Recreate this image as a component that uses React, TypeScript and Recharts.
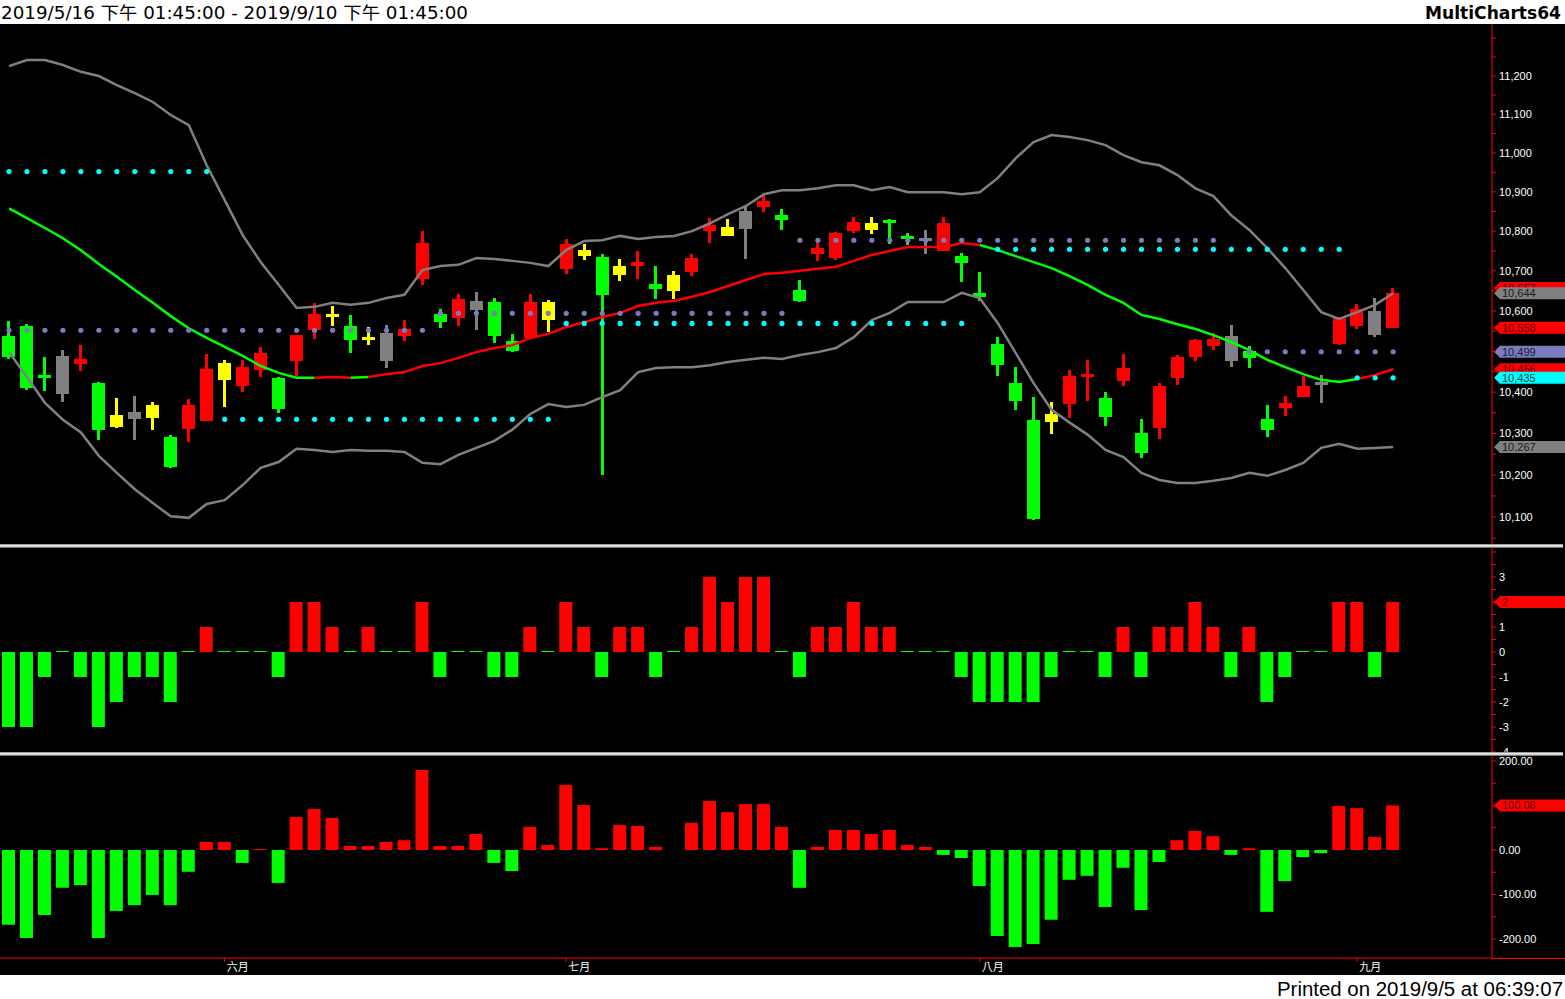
import React from 'react';
import { ComposedChart, Bar, Line, XAxis, YAxis, ReferenceLine, Cell } from 'recharts';

// ---------------- data ----------------
const dayLabels = [
  '5/16','5/17','5/20','5/21','5/22','5/23','5/24','5/27','5/28','5/29','5/30','5/31',
  '6/3','6/4','6/5','6/6','6/10','6/11','6/12','6/13','6/14','6/17','6/18','6/19','6/20','6/21','6/24','6/25','6/26','6/27','6/28',
  '7/1','7/2','7/3','7/4','7/5','7/8','7/9','7/10','7/11','7/12','7/15','7/16','7/17','7/18','7/19','7/22','7/23','7/24','7/25','7/26','7/29','7/30','7/31',
  '8/1','8/2','8/5','8/6','8/7','8/8','8/12','8/13','8/14','8/15','8/16','8/19','8/20','8/21','8/22','8/23','8/26','8/27','8/28','8/29','8/30',
  '9/2','9/3','9/4',
];

const monthStarts = ['6/3', '7/1', '8/1', '9/2'];
const monthLabels = ['六月', '七月', '八月', '九月'];

const openPrices = [
  10538,10562,10440,10488,10469,10423,10345,10352,10369,10292,
  10311,10331,10471,10415,10454,10435,10476,10552,10587,10562,
  10535,10545,10538,10680,10592,10582,10625,10622,10525,10533,
  10622,10704,10752,10735,10712,10712,10667,10690,10697,10800,
  10810,10851,10861,10840,10652,10742,10732,10800,10820,10828,
  10787,10782,10750,10737,10645,10518,10423,10333,10347,10371,
  10437,10386,10427,10302,10314,10435,10486,10513,10538,10501,
  10335,10362,10388,10425,10518,10562,10600,10558,
];
const highPrices = [
  10575,10567,10486,10503,10515,10425,10386,10391,10376,10297,
  10384,10493,10479,10479,10510,10437,10540,10620,10612,10590,
  10560,10565,10577,10800,10605,10642,10647,10632,10543,10642,
  10627,10780,10767,10742,10730,10750,10712,10700,10742,10833,
  10830,10861,10889,10856,10677,10780,10798,10835,10835,10830,
  10795,10803,10835,10745,10697,10535,10461,10388,10376,10454,
  10479,10400,10493,10335,10423,10491,10530,10545,10565,10513,
  10369,10391,10440,10442,10585,10617,10632,10657,
];
const lowPrices = [
  10482,10405,10403,10376,10452,10285,10314,10283,10309,10217,
  10278,10331,10364,10400,10437,10350,10440,10530,10562,10496,
  10515,10459,10525,10665,10557,10562,10552,10520,10498,10530,
  10548,10692,10727,10200,10675,10680,10630,10630,10687,10770,
  10788,10730,10848,10803,10622,10725,10727,10795,10793,10767,
  10765,10742,10750,10672,10625,10440,10357,10093,10299,10338,
  10379,10319,10415,10241,10287,10418,10476,10503,10461,10459,
  10292,10343,10388,10374,10515,10555,10535,10557,
];
const closePrices = [
  10486,10410,10435,10396,10481,10309,10316,10335,10338,10219,
  10369,10457,10430,10461,10496,10359,10540,10592,10592,10528,
  10530,10476,10555,10770,10572,10630,10602,10538,10501,10622,
  10577,10767,10737,10640,10690,10722,10655,10650,10732,10815,
  10788,10805,10876,10828,10625,10757,10795,10823,10803,10820,
  10780,10777,10820,10720,10635,10467,10379,10095,10328,10440,
  10442,10340,10459,10253,10415,10486,10528,10530,10476,10484,
  10307,10374,10415,10418,10582,10605,10540,10645,
];
// r = red, g = green, y = yellow, k = gray
const candleState = [
  'g','g','g','k','r','g','y','k','y','g',
  'r','r','y','r','r','g','r','r','y','g',
  'y','k','r','r','g','r','k','g','g','r',
  'y','r','y','g','y','r','g','y','r','r',
  'y','k','r','g','g','r','r','r','y','g',
  'g','k','r','g','g','g','g','g','y','r',
  'r','g','r','g','r','r','r','r','k','g',
  'g','r','r','k','r','r','k','r',
];

const bbUpper = [
  11226,11242,11242,11229,11211,11200,11176,11155,11132,11098,
  11072,10968,10879,10790,10722,10665,10607,10610,10620,10615,
  10620,10632,10640,10702,10712,10715,10732,10730,10725,10720,
  10712,10752,10775,10777,10788,10780,10785,10788,10800,10820,
  10843,10864,10894,10904,10904,10909,10917,10917,10904,10912,
  10899,10899,10899,10894,10899,10935,10986,11028,11046,11041,
  11033,11020,10994,10976,10968,10943,10909,10889,10840,10803,
  10757,10707,10652,10597,10580,10597,10615,10644,
];
const bbMiddle = [
  10858,10833,10808,10782,10752,10717,10685,10652,10620,10587,
  10557,10533,10511,10489,10464,10447,10435,10435,10437,10435,
  10437,10444,10449,10464,10471,10484,10498,10508,10515,10533,
  10543,10560,10572,10585,10595,10612,10620,10625,10635,10647,
  10662,10677,10692,10695,10700,10705,10710,10725,10740,10750,
  10760,10760,10760,10770,10765,10752,10737,10722,10707,10687,
  10665,10640,10620,10590,10580,10567,10555,10540,10523,10503,
  10479,10461,10444,10430,10425,10432,10442,10456,
];
const bbLower = [
  10498,10437,10374,10333,10302,10246,10205,10166,10133,10102,
  10098,10131,10140,10176,10217,10231,10263,10260,10255,10260,
  10258,10258,10255,10229,10226,10248,10265,10282,10309,10347,
  10371,10364,10369,10388,10405,10449,10459,10461,10461,10466,
  10474,10479,10484,10481,10491,10498,10508,10535,10577,10595,
  10622,10622,10622,10645,10632,10570,10496,10422,10357,10326,
  10297,10260,10243,10205,10188,10181,10181,10186,10193,10205,
  10198,10212,10229,10265,10275,10263,10265,10267,
];
// middle line colour segments (bar index ranges): up = red, down = green
const maSegments = [
  { from: 0, to: 17, up: false },
  { from: 17, to: 19, up: true },
  { from: 19, to: 20, up: false },
  { from: 20, to: 54, up: true },
  { from: 54, to: 75, up: false },
  { from: 75, to: 77, up: true },
];

const slateLevels = [
  { from: 0, to: 23, value: 10552 },
  { from: 24, to: 43, value: 10594 },
  { from: 44, to: 67, value: 10777 },
  { from: 68, to: 77, value: 10499 },
];
const cyanLevels = [
  { from: 0, to: 11, value: 10952 },
  { from: 12, to: 30, value: 10334 },
  { from: 31, to: 53, value: 10569 },
  { from: 55, to: 74, value: 10754 },
  { from: 75, to: 77, value: 10435 },
];

const oscValues = [
  -3,-3,-1,0,-1,-3,-2,-1,-1,-2,
  0,1,0,0,0,-1,2,2,1,0,
  1,0,0,2,-1,0,0,-1,-1,1,
  0,2,1,-1,1,1,-1,0,1,3,
  2,3,3,0,-1,1,1,2,1,1,
  0,0,0,-1,-2,-2,-2,-2,-1,0,
  0,-1,1,-1,1,1,2,1,-1,1,
  -2,-1,0,0,2,2,-1,2,
];
const flowValues = [
  -168,-198,-146,-85,-79,-198,-137,-124,-101,-124,
  -49,18,18,-29,2,-74,74,92,72,9,
  9,18,22,180,9,9,36,-29,-47,52,
  11,146,101,4,56,54,7,0,61,110,
  85,103,103,52,-85,7,45,45,36,45,
  11,7,-11,-18,-81,-193,-218,-211,-157,-67,
  -58,-128,-40,-135,-27,22,43,31,-11,4,
  -139,-70,-16,-7,99,94,29,100.08,
];

const priceTags = [
  { value: 10657, kind: 'red' },
  { value: 10644, kind: 'gray' },
  { value: 10558, kind: 'red' },
  { value: 10499, kind: 'slate' },
  { value: 10456, kind: 'red' },
  { value: 10435, kind: 'cyan' },
  { value: 10267, kind: 'gray' },
];
const oscTags = [{ value: 2, kind: 'red' }];
const flowTags = [{ value: 100.08, kind: 'red' }];

const priceLabelTicks = [10100,10200,10300,10400,10500,10600,10700,10800,10900,11000,11100,11200];
const oscLabelTicks = [-4,-3,-2,-1,0,1,2,3];
const flowLabelTicks = [-200,-100,0,100,200];

// ---------------- styling / layout ----------------
const W = 1565;
const AXIS_W = 73;
const EMPTY_SLOTS = 5;
const COLORS: Record<string, string> = {
  r: '#ff0000', g: '#00ff00', y: '#ffff00', k: '#808080',
  red: '#ff0000', gray: '#808080', slate: '#7b7bbf', cyan: '#00ffff',
};
const TAG_TEXT: Record<string, string> = {
  red: '#5a0000', gray: '#1a1a1a', slate: '#18183a', cyan: '#004040',
};
const AXIS_FONT = "'Liberation Sans', Arial, sans-serif";

const rows: any[] = [];
for (let i = 0; i < dayLabels.length + EMPTY_SLOTS; i++) {
  const r: any = { day: i < dayLabels.length ? dayLabels[i] : `pad${i}` };
  if (i < dayLabels.length) {
    r.open = openPrices[i];
    r.high = highPrices[i];
    r.low = lowPrices[i];
    r.close = closePrices[i];
    r.state = candleState[i];
    r.upper = bbUpper[i];
    r.lower = bbLower[i];
    maSegments.forEach((s, k) => {
      r[`ma${k}`] = i >= s.from && i <= s.to ? bbMiddle[i] : null;
    });
    slateLevels.forEach((l, k) => {
      r[`slate${k}`] = i >= l.from && i <= l.to ? l.value : null;
    });
    cyanLevels.forEach((l, k) => {
      r[`cyan${k}`] = i >= l.from && i <= l.to ? l.value : null;
    });
    r.osc = oscValues[i];
    r.flow = flowValues[i];
  }
  rows.push(r);
}

const range = (a: number, b: number, step: number) => {
  const out: number[] = [];
  for (let v = a; v <= b + 1e-9; v += step) out.push(Math.round(v * 100) / 100);
  return out;
};

// ---------------- custom renderers ----------------
const CandleShape = (props: any) => {
  const { x, y, width, height, payload } = props;
  if (!payload || payload.high == null || x == null) return null;
  const top = Math.min(y, y + height);
  const h = Math.abs(height);
  const cx = x + width / 2;
  const lh = Math.log(payload.high);
  const ll = Math.log(payload.low);
  const toY = (v: number) => (lh === ll ? top : top + (h * (lh - Math.log(v))) / (lh - ll));
  const yo = toY(payload.open);
  const yc = toY(payload.close);
  let bTop = Math.min(yo, yc);
  let bH = Math.abs(yo - yc);
  if (bH < 3) {
    bTop = (yo + yc) / 2 - 1.5;
    bH = 3;
  }
  const color = COLORS[payload.state];
  return (
    <g shapeRendering="crispEdges">
      <rect x={cx - 1.5} y={top} width={3} height={Math.max(h, 1)} fill={color} />
      <rect x={cx - 6.5} y={bTop} width={13} height={bH} fill={color} />
    </g>
  );
};

// axis tick: red tick mark, white label (labels hidden where a value tag covers them)
const makeAxisTick =
  (labels: number[], fmt: (v: number) => string, tags: { value: number }[], tol: number) =>
  (props: any) => {
    const { x, y, payload } = props;
    const v = payload.value;
    const isLabel =
      labels.some((l) => Math.abs(l - v) < 1e-6) && !tags.some((t) => Math.abs(t.value - v) < tol);
    return (
      <g>
        <line x1={x} x2={x + 4} y1={y} y2={y} stroke="#ff0000" strokeWidth={1} />
        {isLabel && (
          <text x={x + 7} y={y + 4} fill="#ffffff" fontSize={11} fontFamily={AXIS_FONT}>
            {fmt(v)}
          </text>
        )}
      </g>
    );
  };

const makeTag = (text: string, kind: string) => (props: any) => {
  const vb = props.viewBox || {};
  const ax = (vb.x || 0) + (vb.width || 0);
  const y = vb.y || 0;
  return (
    <g>
      <polygon
        points={`${ax + 2},${y} ${ax + 8},${y - 6} ${ax + AXIS_W},${y - 6} ${ax + AXIS_W},${y + 6} ${ax + 8},${y + 6}`}
        fill={COLORS[kind]}
      />
      <text x={ax + 10} y={y + 4} fill={TAG_TEXT[kind]} fontSize={11} fontFamily={AXIS_FONT}>
        {text}
      </text>
    </g>
  );
};

const MonthTick = (props: any) => {
  const { x, y, payload } = props;
  const k = monthStarts.indexOf(payload.value);
  if (k < 0) return null;
  return (
    <g>
      <line x1={x} x2={x} y1={y} y2={y + 4} stroke="#ff0000" />
      <text x={x + 2} y={y + 13} fill="#ffffff" fontSize={11} fontFamily="'Noto Sans CJK TC', sans-serif">
        {monthLabels[k]}
      </text>
    </g>
  );
};

const fmtPrice = (v: number) => v.toLocaleString('en-US');
const fmtOsc = (v: number) => `${v}`;
const fmtFlow = (v: number) => v.toFixed(2);

const margin = { top: 0, right: 0, bottom: 0, left: 0 };

const PriceChart = () => (
  <ComposedChart width={W} height={520} data={rows} margin={margin}>
    <XAxis dataKey="day" type="category" hide />
    <YAxis
      orientation="right"
      width={AXIS_W}
      type="number"
      scale="log"
      domain={[10036.3, 11337.4]}
      allowDataOverflow
      ticks={range(10050, 11300, 50)}
      interval={0}
      tickLine={false}
      tickSize={0}
      tickMargin={0}
      axisLine={{ stroke: '#ff0000' }}
      tick={makeAxisTick(priceLabelTicks, fmtPrice, priceTags, 8)}
    />
    <Bar
      dataKey={(r: any) => (r.high == null ? null : [r.low, r.high])}
      shape={(p: any) => <CandleShape {...p} />}
      isAnimationActive={false}
    />
    <Line dataKey="upper" type="linear" stroke="#808080" strokeWidth={2.5} dot={false} isAnimationActive={false} />
    <Line dataKey="lower" type="linear" stroke="#808080" strokeWidth={2.5} dot={false} isAnimationActive={false} />
    {maSegments.map((s, k) => (
      <Line
        key={`ma${k}`}
        dataKey={`ma${k}`}
        type="linear"
        stroke={s.up ? '#ff0000' : '#00ff00'}
        strokeWidth={2.5}
        dot={false}
        isAnimationActive={false}
      />
    ))}
    {slateLevels.map((l, k) => (
      <Line
        key={`slate${k}`}
        dataKey={`slate${k}`}
        stroke="none"
        dot={{ r: 2.6, fill: COLORS.slate, stroke: 'none', strokeWidth: 0 }}
        isAnimationActive={false}
      />
    ))}
    {cyanLevels.map((l, k) => (
      <Line
        key={`cyan${k}`}
        dataKey={`cyan${k}`}
        stroke="none"
        dot={{ r: 2.6, fill: COLORS.cyan, stroke: 'none', strokeWidth: 0 }}
        isAnimationActive={false}
      />
    ))}
    {priceTags.map((t, k) => (
      <ReferenceLine key={`pt${k}`} y={t.value} stroke="none" label={makeTag(fmtPrice(t.value), t.kind)} />
    ))}
  </ComposedChart>
);

const OscChart = () => (
  <ComposedChart width={W} height={204} data={rows} margin={margin}>
    <XAxis dataKey="day" type="category" hide />
    <YAxis
      orientation="right"
      width={AXIS_W}
      type="number"
      domain={[-4, 4.16]}
      allowDataOverflow
      ticks={range(-4, 4, 0.5)}
      interval={0}
      tickLine={false}
      tickSize={0}
      tickMargin={0}
      axisLine={{ stroke: '#ff0000' }}
      tick={makeAxisTick(oscLabelTicks, fmtOsc, oscTags, 0.3)}
    />
    <Bar dataKey="osc" barSize={13} minPointSize={1} isAnimationActive={false}>
      {rows.map((r, i) => (
        <Cell key={i} fill={r.osc > 0 ? '#ff0000' : '#00ff00'} />
      ))}
    </Bar>
    {oscTags.map((t, k) => (
      <ReferenceLine key={`ot${k}`} y={t.value} stroke="none" label={makeTag(fmtOsc(t.value), t.kind)} />
    ))}
  </ComposedChart>
);

const FlowChart = () => (
  <ComposedChart width={W} height={219} data={rows} margin={margin}>
    <XAxis
      dataKey="day"
      type="category"
      ticks={monthStarts}
      interval={0}
      height={17}
      tickLine={false}
      tickSize={0}
      tickMargin={0}
      axisLine={{ stroke: '#ff0000' }}
      tick={(p: any) => <MonthTick {...p} />}
    />
    <YAxis
      orientation="right"
      width={AXIS_W}
      type="number"
      domain={[-242.7, 211.2]}
      allowDataOverflow
      ticks={range(-200, 200, 50)}
      interval={0}
      tickLine={false}
      tickSize={0}
      tickMargin={0}
      axisLine={{ stroke: '#ff0000' }}
      tick={makeAxisTick(flowLabelTicks, fmtFlow, flowTags, 15)}
    />
    <Bar dataKey="flow" barSize={13} isAnimationActive={false}>
      {rows.map((r, i) => (
        <Cell key={i} fill={r.flow > 0 ? '#ff0000' : '#00ff00'} />
      ))}
    </Bar>
    {flowTags.map((t, k) => (
      <ReferenceLine key={`ft${k}`} y={t.value} stroke="none" label={makeTag(fmtFlow(t.value), t.kind)} />
    ))}
  </ComposedChart>
);

const Separator = ({ top }: { top: number }) => (
  <div style={{ position: 'absolute', left: 0, top, width: 1563, height: 4 }}>
    <div style={{ height: 1, background: '#9a9a9a' }} />
    <div style={{ height: 1, background: '#e8e8e8' }} />
    <div style={{ height: 1, background: '#d0d0d0' }} />
    <div style={{ height: 1, background: '#7a7a7a' }} />
  </div>
);

export default function App() {
  return (
    <div
      style={{
        position: 'fixed',
        left: 0,
        top: 0,
        width: 1565,
        height: 999,
        background: '#ffffff',
        overflow: 'hidden',
      }}
    >
      <svg style={{ position: 'absolute', left: 0, top: 0 }} width={1565} height={24}>
        <text
          x={1}
          y={19}
          fontSize={17.5}
          fontFamily="'DejaVu Sans', 'Noto Sans CJK TC', sans-serif"
          fill="#000"
          textLength={467}
          lengthAdjust="spacingAndGlyphs"
        >
          2019/5/16 下午 01:45:00 - 2019/9/10 下午 01:45:00
        </text>
        <text
          x={1425}
          y={19}
          fontSize={17.5}
          fontWeight="bold"
          fontFamily="'DejaVu Sans', sans-serif"
          fill="#000"
          textLength={136}
          lengthAdjust="spacingAndGlyphs"
        >
          MultiCharts64
        </text>
      </svg>
      <div style={{ position: 'absolute', left: 0, top: 24, width: 1565, height: 951, background: '#000' }} />
      <div style={{ position: 'absolute', left: 0, top: 24 }}>
        <PriceChart />
      </div>
      <Separator top={544} />
      <div style={{ position: 'absolute', left: 0, top: 548 }}>
        <OscChart />
      </div>
      <Separator top={752} />
      <div style={{ position: 'absolute', left: 0, top: 756 }}>
        <FlowChart />
      </div>
      <div style={{ position: 'absolute', left: 1492, top: 958, width: 73, height: 1, background: '#ff0000' }} />
      <svg style={{ position: 'absolute', left: 0, top: 975 }} width={1565} height={24}>
        <text
          x={1277}
          y={21}
          fontSize={20}
          fontFamily="'Liberation Sans', Arial, sans-serif"
          fill="#000"
          textLength={286}
          lengthAdjust="spacingAndGlyphs"
        >
          Printed on 2019/9/5 at 06:39:07
        </text>
      </svg>
    </div>
  );
}
